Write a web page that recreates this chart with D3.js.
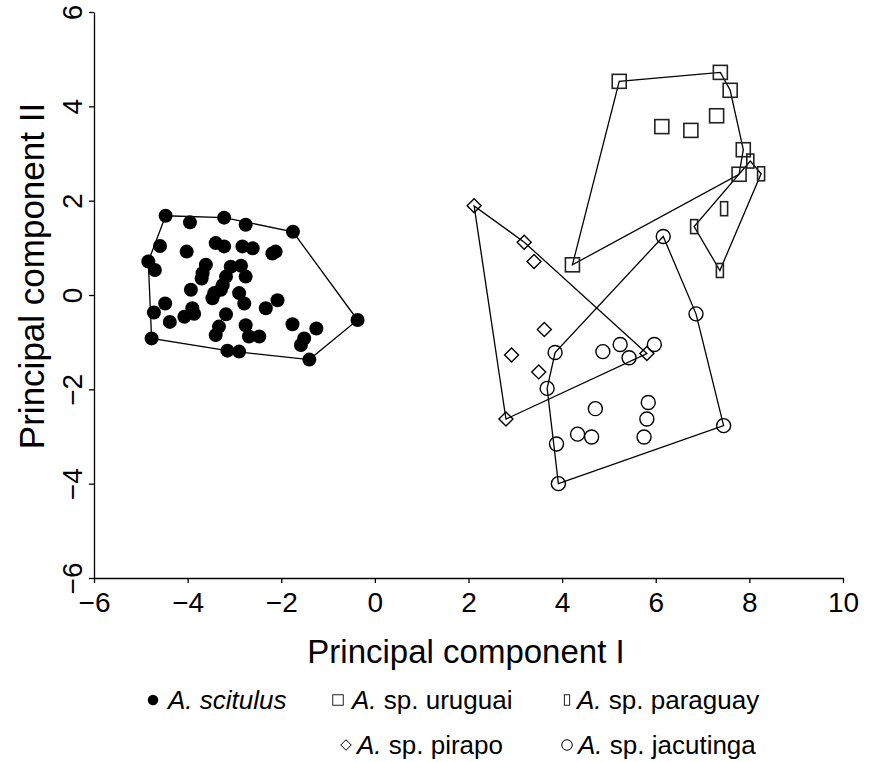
<!DOCTYPE html>
<html>
<head>
<meta charset="utf-8">
<script src="https://cdn.jsdelivr.net/npm/d3@7"></script>
<style>
  body { margin: 0; background: #fff; }
  text { font-family: "Liberation Sans", Arial, sans-serif; fill: #000; }
</style>
</head>
<body>
<script>
// PC scores, [PC I, PC II]
var scitulus = [
    [-4.47, 1.68], [-3.95, 1.54], [-3.22, 1.64], [-2.76, 1.49], [-1.75, 1.34],
    [-4.59, 1.04], [-4.02, 0.92], [-3.40, 1.10], [-3.22, 1.03], [-2.83, 1.03],
    [-2.61, 0.99], [-2.19, 0.88], [-2.12, 0.92], [-4.84, 0.71], [-4.70, 0.53],
    [-3.61, 0.64], [-3.68, 0.46], [-3.70, 0.35], [-3.08, 0.60], [-2.86, 0.62],
    [-2.76, 0.39], [-3.18, 0.39], [-3.25, 0.21], [-3.93, 0.11], [-3.43, 0.04],
    [-3.47, -0.07], [-3.29, 0.11], [-2.90, 0.04], [-2.79, -0.18], [-2.33, -0.28],
    [-2.08, -0.11], [-4.48, -0.18], [-4.72, -0.37], [-4.38, -0.57], [-4.07, -0.46],
    [-3.86, -0.40], [-3.90, -0.28], [-3.18, -0.41], [-3.33, -0.67], [-3.40, -0.85],
    [-2.76, -0.64], [-2.69, -0.88], [-2.47, -0.88], [-1.76, -0.62], [-1.25, -0.71],
    [-1.51, -0.92], [-1.58, -1.06], [-4.77, -0.92], [-3.15, -1.18], [-2.90, -1.20],
    [-1.40, -1.37], [-0.37, -0.53]
];
var uruguai = [
    [5.22, 4.53], [7.38, 4.72], [7.59, 4.34], [6.13, 3.57], [6.75, 3.49],
    [7.30, 3.80], [7.87, 3.08], [7.78, 2.56], [4.22, 0.64]
];
var paraguay = [
    [8.02, 2.84], [8.25, 2.57], [7.46, 1.83], [6.82, 1.45], [7.37, 0.52]
];
var pirapo = [
    [2.12, 1.89], [3.19, 1.12], [3.40, 0.71], [3.62, -0.73], [2.92, -1.27],
    [3.50, -1.63], [2.80, -2.63], [5.81, -1.24]
];
var jacutinga = [
    [6.16, 1.24], [6.86, -0.40], [3.85, -1.22], [4.87, -1.20], [5.24, -1.05],
    [5.43, -1.33], [5.97, -1.05], [3.68, -1.98], [4.71, -2.41], [5.84, -2.28],
    [5.81, -2.63], [5.75, -3.01], [4.33, -2.95], [4.63, -3.01], [3.88, -3.16],
    [7.45, -2.77], [3.92, -4.00]
];

var xTicks = [-6, -4, -2, 0, 2, 4, 6, 8, 10];
var yTicks = [-6, -4, -2, 0, 2, 4, 6];

var groups = [
    { pts: scitulus, shape: "dot" },
    { pts: uruguai, shape: "square" },
    { pts: paraguay, shape: "bar" },
    { pts: pirapo, shape: "diamond" },
    { pts: jacutinga, shape: "circle" }
];

var width = 880,
    height = 762;

var svg = d3.select("body").append("svg")
    .attr("width", width)
    .attr("height", height);

var x = d3.scaleLinear().domain([-6, 10]).range([94, 843]);
var y = d3.scaleLinear().domain([-6, 6]).range([578, 12]);

// axes
var xAxis = svg.append("g")
    .attr("transform", "translate(0,578)")
    .call(d3.axisBottom(x).tickValues(xTicks).tickSize(5).tickPadding(9).tickSizeOuter(0));
xAxis.selectAll("text").style("font-size", "28px");

var yAxis = svg.append("g")
    .attr("transform", "translate(94,0)")
    .call(d3.axisLeft(y).tickValues(yTicks).tickSize(5).tickSizeOuter(0));
yAxis.selectAll("text")
    .style("font-size", "28px")
    .attr("transform", "rotate(-90)")
    .attr("text-anchor", "middle")
    .attr("x", 0)
    .attr("y", -12)
    .attr("dy", 0);
svg.selectAll(".domain, .tick line").attr("stroke", "#000").attr("stroke-width", 1.3);

svg.append("text")
    .attr("x", 466)
    .attr("y", 663)
    .attr("text-anchor", "middle")
    .style("font-size", "33px")
    .text("Principal component I");

svg.append("text")
    .attr("transform", "translate(44,276) rotate(-90)")
    .attr("text-anchor", "middle")
    .style("font-size", "35px")
    .text("Principal component II");

// convex hulls
var line = d3.line();
groups.forEach(function(g) {
    var hull = d3.polygonHull(g.pts.map(function(p) { return [x(p[0]), y(p[1])]; }));
    svg.append("path")
        .attr("d", line(hull) + "Z")
        .attr("fill", "none")
        .attr("stroke", "#000")
        .attr("stroke-width", 1.3);
});

function drawMarker(sel, shape, s) {
    // s = scale factor for the marker
    if (shape === "dot") {
        sel.append("circle").attr("r", 7 * s).attr("fill", "#000");
    } else if (shape === "circle") {
        sel.append("circle").attr("r", 7 * s)
            .attr("fill", "none").attr("stroke", "#000").attr("stroke-width", 1.4);
    } else if (shape === "square") {
        sel.append("rect").attr("x", -7 * s).attr("y", -7 * s)
            .attr("width", 14 * s).attr("height", 14 * s)
            .attr("fill", "none").attr("stroke", "#222").attr("stroke-width", 1.6);
    } else if (shape === "bar") {
        sel.append("rect").attr("x", -3.5 * s).attr("y", -7 * s)
            .attr("width", 7 * s).attr("height", 14 * s)
            .attr("fill", "none").attr("stroke", "#222").attr("stroke-width", 1.6);
    } else if (shape === "diamond") {
        var r = 7 * s;
        sel.append("path").attr("d", "M0," + (-r) + "L" + r + ",0L0," + r + "L" + (-r) + ",0Z")
            .attr("fill", "none").attr("stroke", "#000").attr("stroke-width", 1.4);
    }
}

groups.forEach(function(g) {
    svg.append("g").selectAll("g")
        .data(g.pts)
        .enter().append("g")
        .attr("transform", function(d) { return "translate(" + x(d[0]) + "," + y(d[1]) + ")"; })
        .each(function() { drawMarker(d3.select(this), g.shape, 1); });
});

// legend
var legend = [
    { shape: "dot", sp: "scitulus", mx: 153, tx: 168, ty: 709, italic: true },
    { shape: "square", sp: "sp. uruguai", mx: 338, tx: 352, ty: 709 },
    { shape: "bar", sp: "sp. paraguay", mx: 567, tx: 577, ty: 709 },
    { shape: "diamond", sp: "sp. pirapo", mx: 346, tx: 357, ty: 754 },
    { shape: "circle", sp: "sp. jacutinga", mx: 567, tx: 578, ty: 754 }
];

legend.forEach(function(d) {
    var m = svg.append("g").attr("transform", "translate(" + d.mx + "," + (d.ty - 9) + ")");
    drawMarker(m, d.shape, 0.75);
    m.selectAll("*").attr("stroke-width", 1);
    var t = svg.append("text")
        .attr("x", d.tx)
        .attr("y", d.ty)
        .style("font-size", "26px");
    t.append("tspan").style("font-style", "italic").text("A.");
    t.append("tspan").style("font-style", d.italic ? "italic" : "normal").text(" " + d.sp);
});
</script>
</body>
</html>
